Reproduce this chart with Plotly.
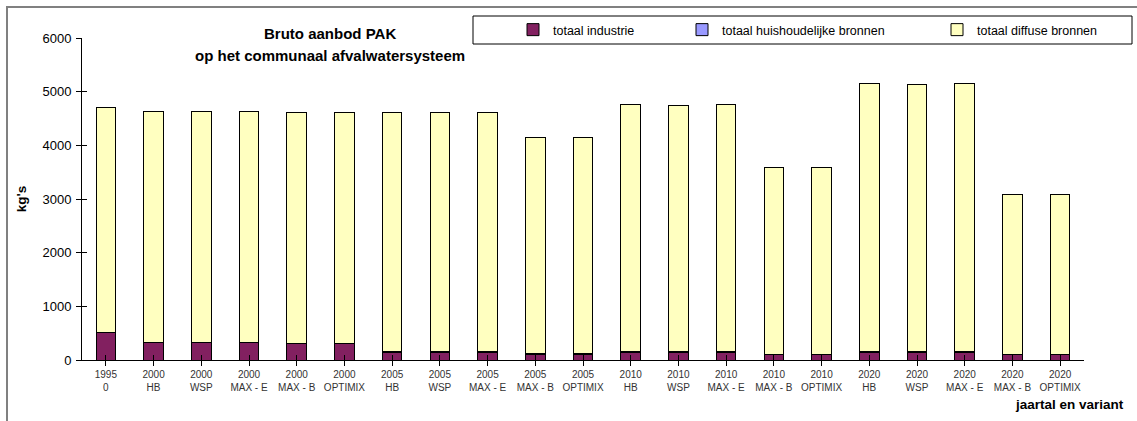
import plotly.graph_objects as go

# Year / scenario categories (two-line tick labels)
jaartal = ["1995", "2000", "2000", "2000", "2000", "2000",
           "2005", "2005", "2005", "2005", "2005",
           "2010", "2010", "2010", "2010", "2010",
           "2020", "2020", "2020", "2020", "2020"]
variant = ["0", "HB", "WSP", "MAX-E", "MAX-B", "OPTIMIX",
           "HB", "WSP", "MAX-E", "MAX-B", "OPTIMIX",
           "HB", "WSP", "MAX-E", "MAX-B", "OPTIMIX",
           "HB", "WSP", "MAX-E", "MAX-B", "OPTIMIX"]

# Loads in kg per source
totaal_industrie = [505, 320, 320, 320, 300, 300,
                    145, 145, 145, 110, 110,
                    145, 145, 145, 100, 100,
                    145, 145, 145, 100, 100]
totaal_huishoudelijk = [8, 8, 8, 8, 8, 8,
                        8, 8, 8, 8, 8,
                        8, 8, 8, 8, 8,
                        8, 8, 8, 8, 8]
totaal_diffuus = [4200, 4305, 4305, 4305, 4310, 4310,
                  4465, 4465, 4465, 4020, 4020,
                  4615, 4590, 4615, 3470, 3470,
                  5005, 4985, 5005, 2980, 2980]

y_ticks = [0, 1000, 2000, 3000, 4000, 5000, 6000]

FONT = "Arial, Liberation Sans, sans-serif"
W, H = 1137, 421
ML, MR, MT, MB = 82, 53, 38, 61
PW, PH = W - ML - MR, H - MT - MB


def px_x(px):
    """Horizontal page pixel -> paper fraction."""
    return (px - ML) / PW


def px_y(py):
    """Vertical page pixel (from top) -> paper fraction."""
    return 1 - (py - MT) / PH


cats = list(range(len(jaartal)))
ticktext = [f"{j}<br>{v.replace('-', ' - ')}" for j, v in zip(jaartal, variant)]

# each series gets its own legend group so the entries can be spaced freely
series = [
    ("totaal industrie", totaal_industrie, "#822060", "legend", 553),
    ("totaal huishoudelijke bronnen", totaal_huishoudelijk, "#9999FF", "legend2", 722),
    ("totaal diffuse bronnen", totaal_diffuus, "#FFFFC0", "legend3", 977),
]

fig = go.Figure()
legend_layouts = {}
for name, vals, col, leg, text_x in series:
    fig.add_trace(go.Bar(
        x=cats, y=vals, name=name, legend=leg,
        marker=dict(color=col, line=dict(color="black", width=1)),
        width=0.41,
    ))
    legend_layouts[leg] = dict(
        orientation="h",
        xref="container", yref="container",
        x=(text_x - 40) / W, xanchor="left",
        y=1 - 30 / H, yanchor="middle",
        bgcolor="rgba(0,0,0,0)", borderwidth=0,
        font=dict(size=12.5, family=FONT),
        itemclick=False, itemdoubleclick=False,
    )

# invisible helper trace so the secondary (tick-only) axes are rendered
fig.add_trace(go.Scatter(x=[0], y=[0], xaxis="x2", yaxis="y2", mode="markers",
                         marker=dict(opacity=0), showlegend=False, hoverinfo="skip"))

fig.update_layout(
    barmode="stack",
    width=W, height=H,
    margin=dict(l=ML, r=MR, t=MT, b=MB, autoexpand=False),
    paper_bgcolor="white", plot_bgcolor="white",
    font=dict(family=FONT, size=12, color="black"),
    showlegend=True,
    **legend_layouts,
    xaxis=dict(
        range=[-0.5, len(cats) - 0.5],
        tickmode="array", tickvals=cats, ticktext=ticktext,
        tickson="boundaries", ticks="outside", ticklen=5,
        tickcolor="black", tickwidth=1,
        tickfont=dict(size=10, color="#333333", family=FONT),
        showline=True, linecolor="black", linewidth=1,
        showgrid=False, zeroline=False, fixedrange=True,
    ),
    yaxis=dict(
        range=[0, 6000],
        tickmode="array", tickvals=y_ticks,
        ticks="outside", ticklen=5, tickcolor="black",
        tickfont=dict(size=13, family=FONT), ticklabelstandoff=2,
        showline=True, linecolor="black", linewidth=1,
        showgrid=False, zeroline=False, fixedrange=True,
        title=dict(text="<b>kg's</b>", font=dict(size=13.5, family=FONT), standoff=12),
    ),
    # inner halves of the crossing tick marks
    xaxis2=dict(
        overlaying="x", matches="x", side="bottom", anchor="y",
        tickmode="array", tickvals=cats, tickson="boundaries",
        ticks="inside", ticklen=5, tickcolor="black",
        showticklabels=False, showgrid=False, zeroline=False, showline=False,
    ),
    yaxis2=dict(
        overlaying="y", matches="y", side="left", anchor="x",
        tickmode="array", tickvals=y_ticks,
        ticks="inside", ticklen=5, tickcolor="black",
        showticklabels=False, showgrid=False, zeroline=False, showline=False,
    ),
    bargap=0.59,
)

# chart-area frame (top and left edges visible)
fig.add_shape(type="rect", xref="paper", yref="paper",
              x0=px_x(7), x1=px_x(W + 20), y0=px_y(H + 20), y1=px_y(7),
              line=dict(color="#808080", width=2), fillcolor="rgba(0,0,0,0)", layer="below")

# legend box
fig.add_shape(type="rect", xref="paper", yref="paper",
              x0=px_x(473), x1=px_x(1132), y0=px_y(44), y1=px_y(16),
              line=dict(color="black", width=1), fillcolor="white", layer="below")

# two-line chart title
fig.add_annotation(text="<b>Bruto aanbod PAK</b>", xref="paper", yref="paper",
                   x=px_x(330), y=px_y(33), xanchor="center", yanchor="middle",
                   showarrow=False, font=dict(size=15, family=FONT))
fig.add_annotation(text="<b>op het communaal afvalwatersysteem</b>", xref="paper", yref="paper",
                   x=px_x(330), y=px_y(55), xanchor="center", yanchor="middle",
                   showarrow=False, font=dict(size=15, family=FONT))

# x-axis title, bottom right
fig.add_annotation(text="<b>jaartal en variant</b>", xref="paper", yref="paper",
                   x=px_x(1126), y=px_y(404), xanchor="right", yanchor="middle",
                   showarrow=False, font=dict(size=13.5, family=FONT))

fig.write_html("out.html")
